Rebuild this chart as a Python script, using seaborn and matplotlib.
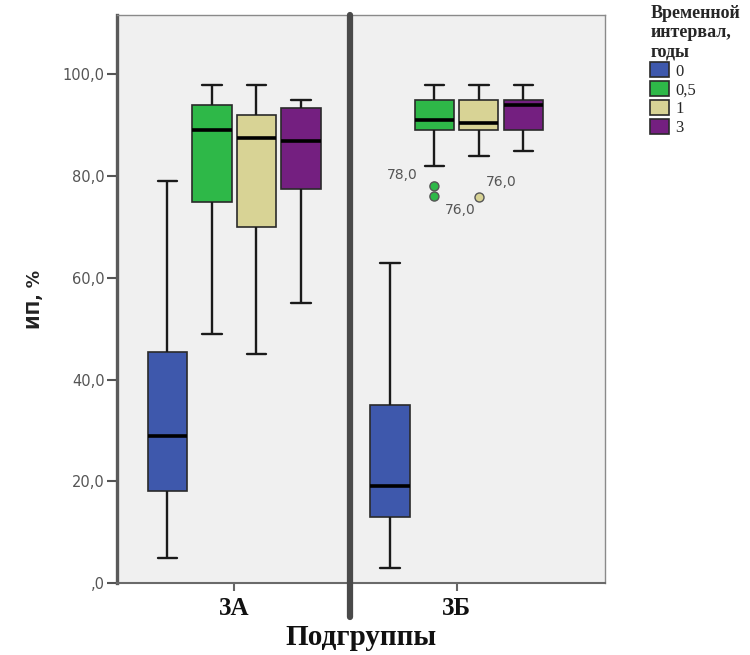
import numpy as np
import pandas as pd
import matplotlib
matplotlib.use("Agg")
import matplotlib.pyplot as plt
import seaborn as sns

sns.set_theme(style="white")
plt.rcParams["font.family"] = ["DejaVu Sans"]

subgroups = ["3А", "3Б"]
intervals = ["0", "0,5", "1", "3"]
palette = ["#3E58AC", "#2EB848", "#D8D395", "#741F80"]
ytick_values = [0, 20, 40, 60, 80, 100]
ytick_labels = [",0", "20,0", "40,0", "60,0", "80,0", "100,0"]

# пятичисловые сводки (по рисунку), порядок: подгруппа x интервал
box_group = ["3А"] * 4 + ["3Б"] * 4
box_interval = intervals * 2
whisker_low = [5, 49, 45, 55, 3, 82, 84, 85]
q1 = [18, 75, 70, 77.5, 13, 89, 89, 89]
median = [29, 89, 87.5, 87, 19, 91, 90.5, 94]
q3 = [45.5, 94, 92, 93.5, 35, 95, 95, 95]
whisker_high = [79, 98, 98, 95, 63, 98, 98, 98]

# выбросы
out_group = ["3Б", "3Б", "3Б"]
out_interval = ["0,5", "0,5", "1"]
out_value = [78.0, 76.0, 76.0]
out_label_offset = [(-32, 11), (26, -13), (22, 15)]  # пиксели

rows = []
for g, iv, a, b, c, d, e in zip(box_group, box_interval, whisker_low, q1, median, q3, whisker_high):
    for v in (a, b, c, d, e):
        rows.append((g, iv, v))
df = pd.DataFrame(rows, columns=["grp", "interval", "val"])
odf = pd.DataFrame({"grp": out_group, "interval": out_interval, "val": out_value})

fig = plt.figure(figsize=(7.5, 6.55), dpi=100)
ax = fig.add_axes([0.156, 0.1099, 0.6507, 0.8672])
ax.set_facecolor("#F0F0F0")

sns.boxplot(data=df, x="grp", y="val", hue="interval", order=subgroups, hue_order=intervals,
            palette=palette, saturation=1, whis=(0, 100), showfliers=False, width=0.8, gap=0.12,
            linecolor="#2a2a2a", linewidth=1.2,
            medianprops=dict(color="black", linewidth=2.6),
            whiskerprops=dict(color="#1a1a1a", linewidth=1.7),
            capprops=dict(color="#1a1a1a", linewidth=1.7), ax=ax)

sns.stripplot(data=odf, x="grp", y="val", hue="interval", order=subgroups, hue_order=intervals,
              palette=palette, dodge=True, jitter=False, size=6.5, linewidth=1,
              edgecolor="#555555", legend=False, ax=ax, zorder=5)

for g, iv, v, off in zip(out_group, out_interval, out_value, out_label_offset):
    xpos = subgroups.index(g) + (intervals.index(iv) - 1.5) * 0.2
    ax.annotate(f"{v:.1f}".replace(".", ","), xy=(xpos, v), xytext=off, textcoords="offset pixels",
                ha="center", va="center", fontsize=10, color="#555555")

ax.set_xlim(-0.527, 1.667)
ax.set_ylim(0, 111.7)
ax.set_yticks(ytick_values)
ax.set_yticklabels(ytick_labels, fontsize=10.5, color="#555555")
ax.tick_params(axis="y", length=7, width=1.5, color="#555555", direction="out", pad=2, left=True)
ax.tick_params(axis="x", length=6, width=1.5, color="#666666", direction="out", pad=4, bottom=True)
for lab in ax.get_xticklabels():
    lab.set_fontfamily("Liberation Serif")
    lab.set_fontweight("bold")
    lab.set_fontsize(18)
    lab.set_color("#111111")

ax.axvline(0.52, ymin=-0.06, ymax=1, color="#4a4a4a", lw=4.5, clip_on=False, zorder=6)

ax.spines["left"].set_color("#5a5a5a")
ax.spines["left"].set_linewidth(2.4)
ax.spines["bottom"].set_color("#6a6a6a")
ax.spines["bottom"].set_linewidth(1.5)
for s in ("top", "right"):
    ax.spines[s].set_color("#8a8a8a")
    ax.spines[s].set_linewidth(1.0)

ax.set_xlabel("Подгруппы", fontfamily="Liberation Serif", fontweight="bold", fontsize=21,
              color="#111111", labelpad=3)
ax.set_ylabel("ИП, %", fontsize=12.5, fontweight="bold", color="#222222", labelpad=13)

sns.move_legend(ax, "upper left", bbox_to_anchor=(0.867, 0.993), bbox_transform=fig.transFigure,
                title="Временной\nинтервал,\nгоды", frameon=False, alignment="left",
                title_fontproperties=dict(family="Liberation Serif", weight="bold", size=13),
                prop=dict(family="Liberation Serif", size=12),
                handlelength=1.1, handleheight=1.0, handletextpad=0.4, labelspacing=0.1,
                borderaxespad=0, borderpad=0)

fig.savefig("out.png", dpi=100)
